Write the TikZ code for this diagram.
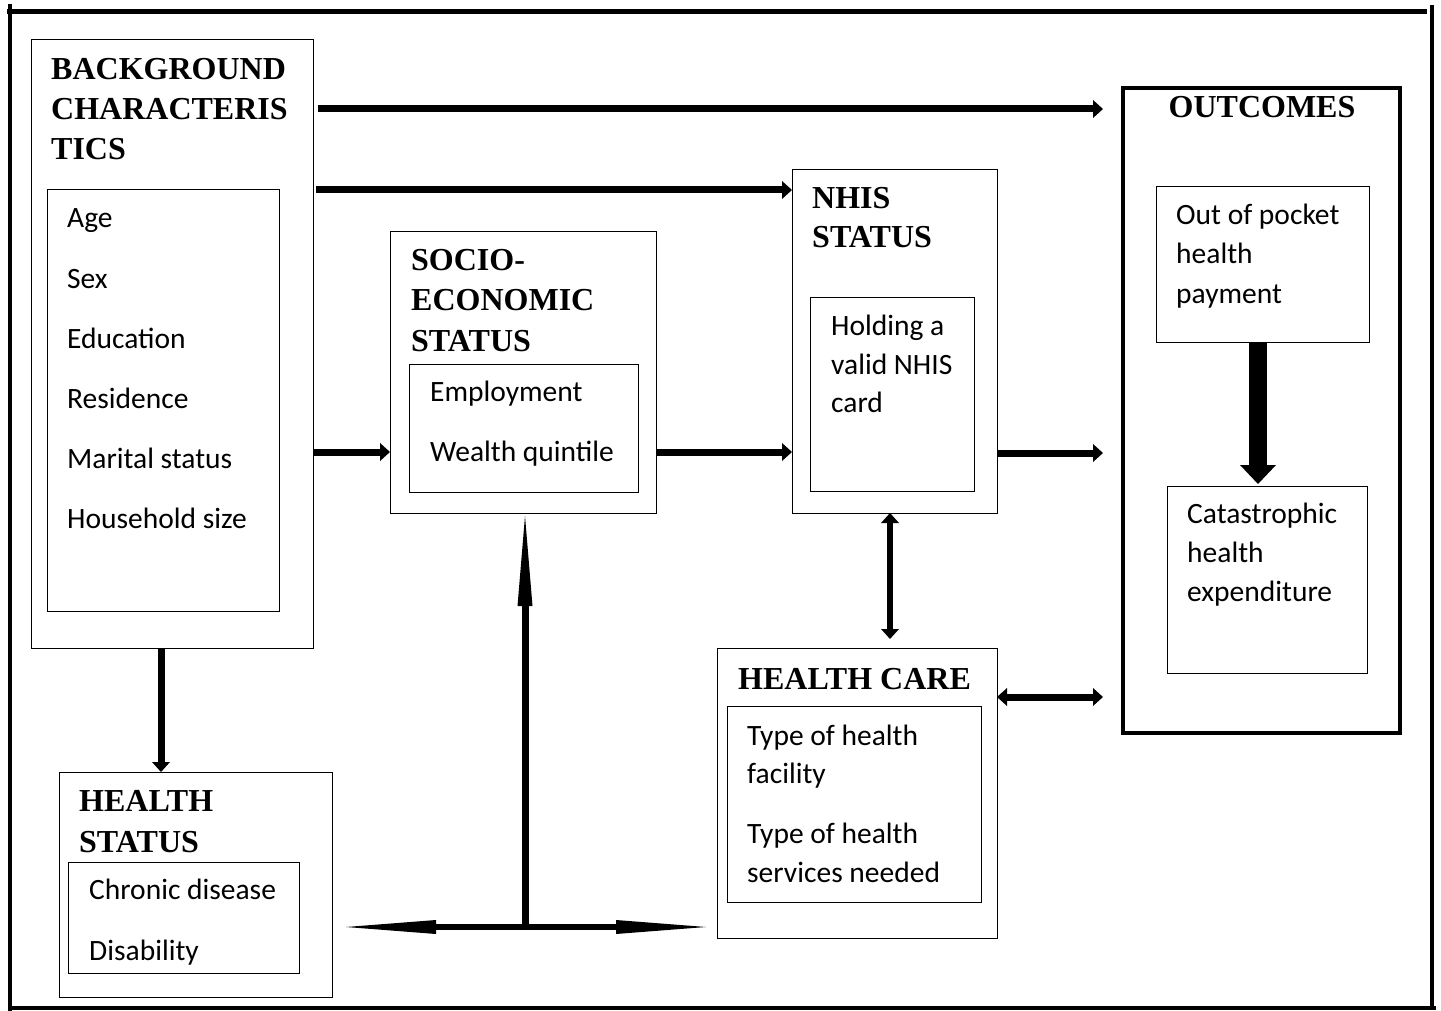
\documentclass[tikz,border=0pt]{standalone}
\usepackage{fontspec}
\setmainfont{Liberation Serif}
\newfontfamily\bodyfont{Carlito}
\usetikzlibrary{arrows.meta}
\begin{document}
\begin{tikzpicture}[x=1pt,y=-1pt,
 box/.style={draw, line width=1pt, anchor=north west, inner sep=0pt, outer sep=0pt},
 ttl/.style={font=\fontsize{32}{40}\selectfont\bfseries, anchor=base west, inner sep=0pt},
 txt/.style={font=\bodyfont\fontsize{29.5}{35}\selectfont, anchor=base west, inner sep=0pt},
 frameline/.style={line width=4.5pt},
 arr/.style={line width=7pt, -{Triangle[length=10pt,width=18pt,line width=0pt]}},
 darr/.style={line width=7pt, {Triangle[length=10pt,width=18pt,line width=0pt]}-{Triangle[length=10pt,width=18pt,line width=0pt]}},
 bigarr/.style={line width=18pt, -{Triangle[length=19pt,width=36pt,line width=0pt]}},
 longtip/.style={-{Triangle[length=90pt,width=15pt,line width=0pt]}},
 longdtip/.style={{Triangle[length=90pt,width=14pt,line width=0pt]}-{Triangle[length=90pt,width=14pt,line width=0pt]}}
]
\useasboundingbox (0,0) rectangle (1441,1011);
% outer frame
\draw[frameline, line width=5pt] (7,12) -- (1427,12);
\draw[frameline] (10,4) -- (10,1011);
\draw[frameline] (1432,5) -- (1432,1010);
\draw[frameline] (8,1008) -- (1436,1008);

% boxes
\node[box, minimum width=282pt, minimum height=608pt] (bg) at (31,40) {};
\node[box, minimum width=232pt, minimum height=421pt] (bgin) at (47,190) {};
\node[box, line width=4pt, minimum width=277pt, minimum height=645pt] (out) at (1123,88) {};
\node[box, minimum width=213pt, minimum height=155pt] (out1) at (1156,187) {};
\node[box, minimum width=200pt, minimum height=187pt] (out2) at (1167,486) {};
\node[box, minimum width=205pt, minimum height=343pt] (nhis) at (792,170) {};
\node[box, minimum width=164pt, minimum height=194pt] (nhisin) at (810,297) {};
\node[box, minimum width=266pt, minimum height=281pt] (ses) at (390,232) {};
\node[box, minimum width=229pt, minimum height=128pt] (sesin) at (409,364) {};
\node[box, minimum width=280pt, minimum height=290pt] (hc) at (717,648) {};
\node[box, minimum width=254pt, minimum height=196pt] (hcin) at (727,706) {};
\node[box, minimum width=273pt, minimum height=225pt] (hs) at (59,772) {};
\node[box, minimum width=231pt, minimum height=111pt] (hsin) at (68,862) {};

% titles
\node[ttl] (tbg1) at (51,80) {BACKGROUND};
\node[ttl] (tbg2) at (51,120) {CHARACTERIS};
\node[ttl] (tbg3) at (51,160) {TICS};
\node[ttl, anchor=base] (tout) at (1262,118) {OUTCOMES};
\node[ttl] (tnh1) at (812,209) {NHIS};
\node[ttl] (tnh2) at (812,248) {STATUS};
\node[ttl] (tse1) at (411,271) {SOCIO-};
\node[ttl] (tse2) at (411,310) {ECONOMIC};
\node[ttl] (tse3) at (411,351) {STATUS};
\node[ttl] (thc) at (738,689) {HEALTH CARE};
\node[ttl] (ths1) at (79,811) {HEALTH};
\node[ttl] (ths2) at (79,852) {STATUS};

% body texts
\node[txt] (b1) at (67,228) {Age};
\node[txt] (b2) at (67,288) {Sex};
\node[txt] (b3) at (67,348) {Education};
\node[txt] (b4) at (67,408) {Residence};
\node[txt] (b5) at (67,468) {Marital status};
\node[txt] (b6) at (67,528) {Household size};
\node[txt] (o1) at (1176,225) {Out of pocket};
\node[txt] (o2) at (1176,264) {health};
\node[txt] (o3) at (1176,303) {payment};
\node[txt] (c1) at (1187,523) {Catastrophic};
\node[txt] (c2) at (1187,562) {health};
\node[txt] (c3) at (1187,601) {expenditure};
\node[txt] (n1) at (831,335) {Holding a};
\node[txt] (n2) at (831,374) {valid NHIS};
\node[txt] (n3) at (831,412) {card};
\node[txt] (s1) at (430,401) {Employment};
\node[txt] (s2) at (430,461) {Wealth quintile};
\node[txt] (h1) at (747,745) {Type of health};
\node[txt] (h2) at (747,783) {facility};
\node[txt] (h3) at (747,843) {Type of health};
\node[txt] (h4) at (747,882) {services needed};
\node[txt] (d1) at (89,899) {Chronic disease};
\node[txt] (d2) at (89,960) {Disability};

% connectors
\draw[arr, shorten <=5pt, shorten >=20pt] (bg.east |- 0,109) -- (out.west |- 0,109);
\draw[arr, shorten <=3pt] (bg.east |- 0,190) -- (nhis.west |- 0,190);
\draw[arr] (bg.east |- 0,452) -- (ses.west |- 0,452);
\draw[arr] (ses.east |- 0,452) -- (nhis.west |- 0,452);
\draw[arr, shorten >=20pt] (nhis.east |- 0,453) -- (out.west |- 0,453);
\draw[darr, line width=6pt, shorten >=9pt] (nhis.south -| 890,0) -- (hc.north -| 890,0);
\draw[darr, shorten >=20pt] (hc.east |- 0,697) -- (out.west |- 0,697);
\draw[arr] (bg.south -| 161,0) -- (hs.north -| 161,0);
\draw[bigarr, shorten >=2pt] (out1.south -| 1258,0) -- (out2.north -| 1258,0);
\coordinate (tj) at (525,927);
\draw[line width=7pt, longtip, shorten >=3pt] (tj) -- (tj |- ses.south);
\draw[line width=6pt, longdtip, shorten <=14pt, shorten >=11pt] (hs.east |- tj) -- (hc.west |- tj);
\end{tikzpicture}
\end{document}
